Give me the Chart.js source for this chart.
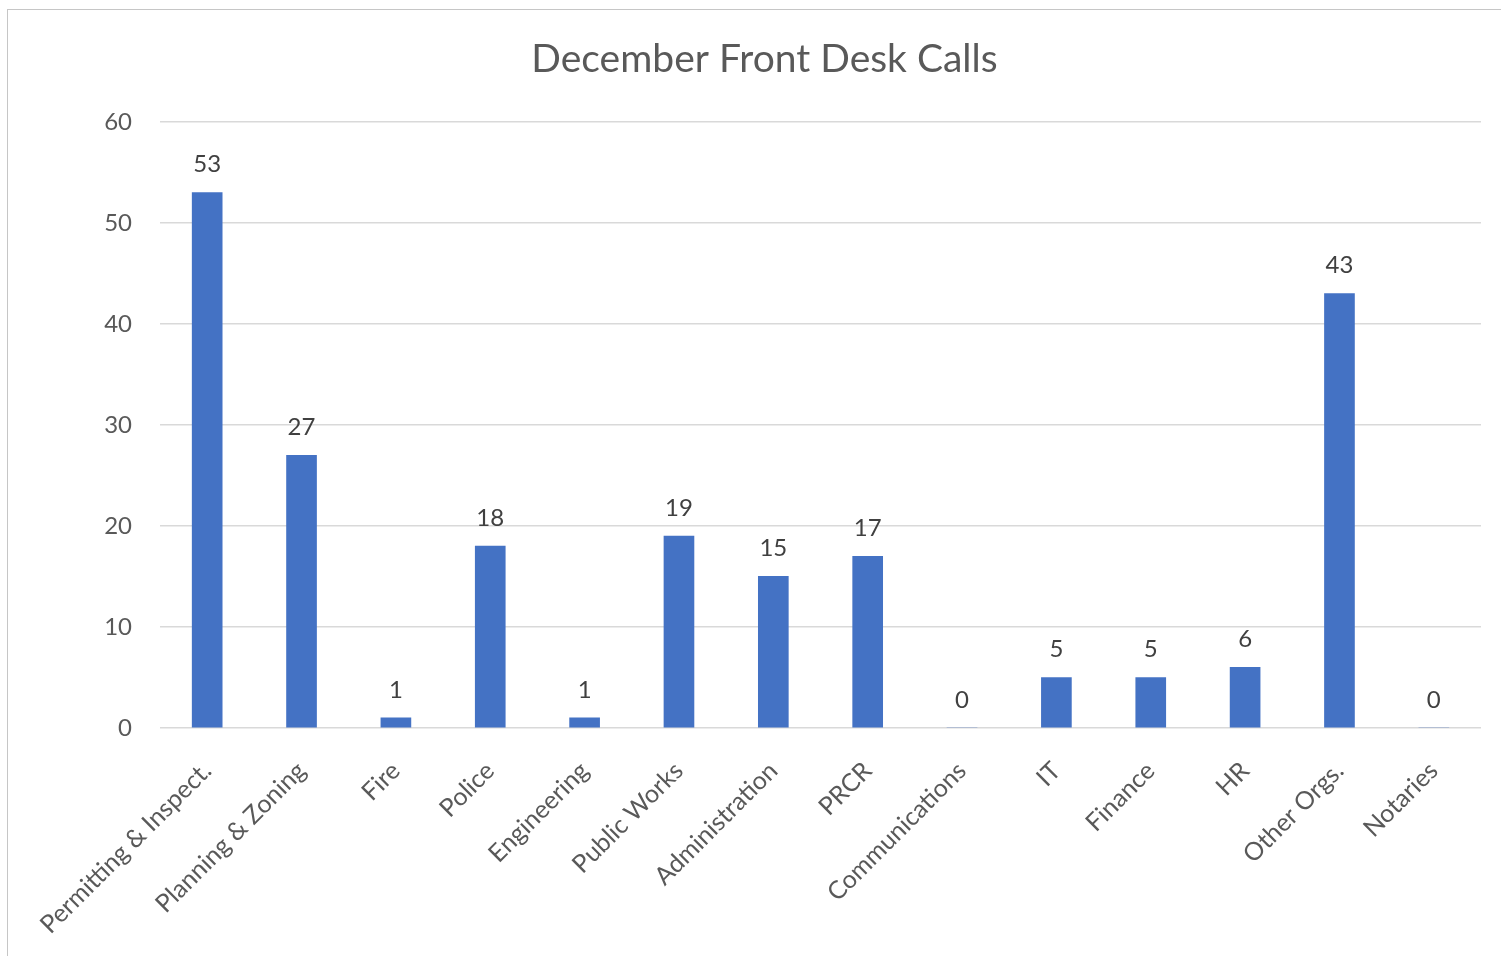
<!DOCTYPE html>
<html>
<head>
<meta charset="utf-8">
<script src="https://cdn.jsdelivr.net/npm/chart.js@4"></script>
<style>
  html, body { margin: 0; padding: 0; background: #fff; overflow: hidden; }
  #frame { position: absolute; left: 7px; top: 9px; width: 1600px; height: 1000px;
           border-left: 1px solid #c6c6c6; border-top: 1px solid #c6c6c6; }
  #wrap { position: absolute; left: 0; top: 0; width: 1501px; height: 956px; }
</style>
</head>
<body>
<div id="frame"></div>
<div id="wrap"><canvas id="chart" width="1501" height="956"></canvas></div>
<script>
const categories = ['Permitting & Inspect.', 'Planning & Zoning', 'Fire', 'Police', 'Engineering',
  'Public Works', 'Administration', 'PRCR', 'Communications', 'IT', 'Finance', 'HR',
  'Other Orgs.', 'Notaries'];
const calls = [53, 27, 1, 18, 1, 19, 15, 17, 0, 5, 5, 6, 43, 0];
const yTicks = [0, 10, 20, 30, 40, 50, 60];

const FONT = 'Lato, "Open Sans", sans-serif';

// value labels above each bar
const barLabels = {
  id: 'barLabels',
  afterDatasetsDraw(chart) {
    const ctx = chart.ctx;
    const meta = chart.getDatasetMeta(0);
    ctx.save();
    ctx.font = '24px ' + FONT;
    ctx.fillStyle = '#404040';
    ctx.textAlign = 'center';
    ctx.textBaseline = 'bottom';
    meta.data.forEach((bar, i) => {
      ctx.fillText(String(calls[i]), bar.x, bar.y - 16);
    });
    ctx.restore();
  }
};

new Chart(document.getElementById('chart'), {
  type: 'bar',
  data: {
    labels: categories,
    datasets: [{
      data: calls,
      backgroundColor: '#4472C4',
      borderWidth: 0,
      barThickness: 30
    }]
  },
  options: {
    responsive: false,
    animation: false,
    layout: { padding: { left: 48, right: 20, top: 0, bottom: 0 } },
    plugins: {
      legend: { display: false },
      tooltip: { enabled: false },
      title: {
        display: true,
        text: 'December Front Desk Calls',
        color: '#595959',
        font: { family: FONT, size: 39, weight: 'normal' },
        padding: { top: 36, bottom: 39 }
      }
    },
    scales: {
      x: {
        grid: { display: false },
        border: { display: false },
        ticks: {
          color: '#595959',
          font: { family: FONT, size: 25 },
          minRotation: 45,
          maxRotation: 45,
          autoSkip: false,
          padding: 20
        },
        afterFit(scale) { scale.height = 228; }
      },
      y: {
        min: 0,
        max: 60,
        afterBuildTicks(scale) { scale.ticks = yTicks.map(v => ({ value: v })); },
        grid: { color: '#d9d9d9', lineWidth: 1.5, drawTicks: false },
        border: { display: false },
        ticks: {
          color: '#595959',
          font: { family: FONT, size: 24 },
          padding: 28
        },
        afterFit(scale) { scale.width = 112; }
      }
    }
  },
  plugins: [barLabels]
});
</script>
</body>
</html>
